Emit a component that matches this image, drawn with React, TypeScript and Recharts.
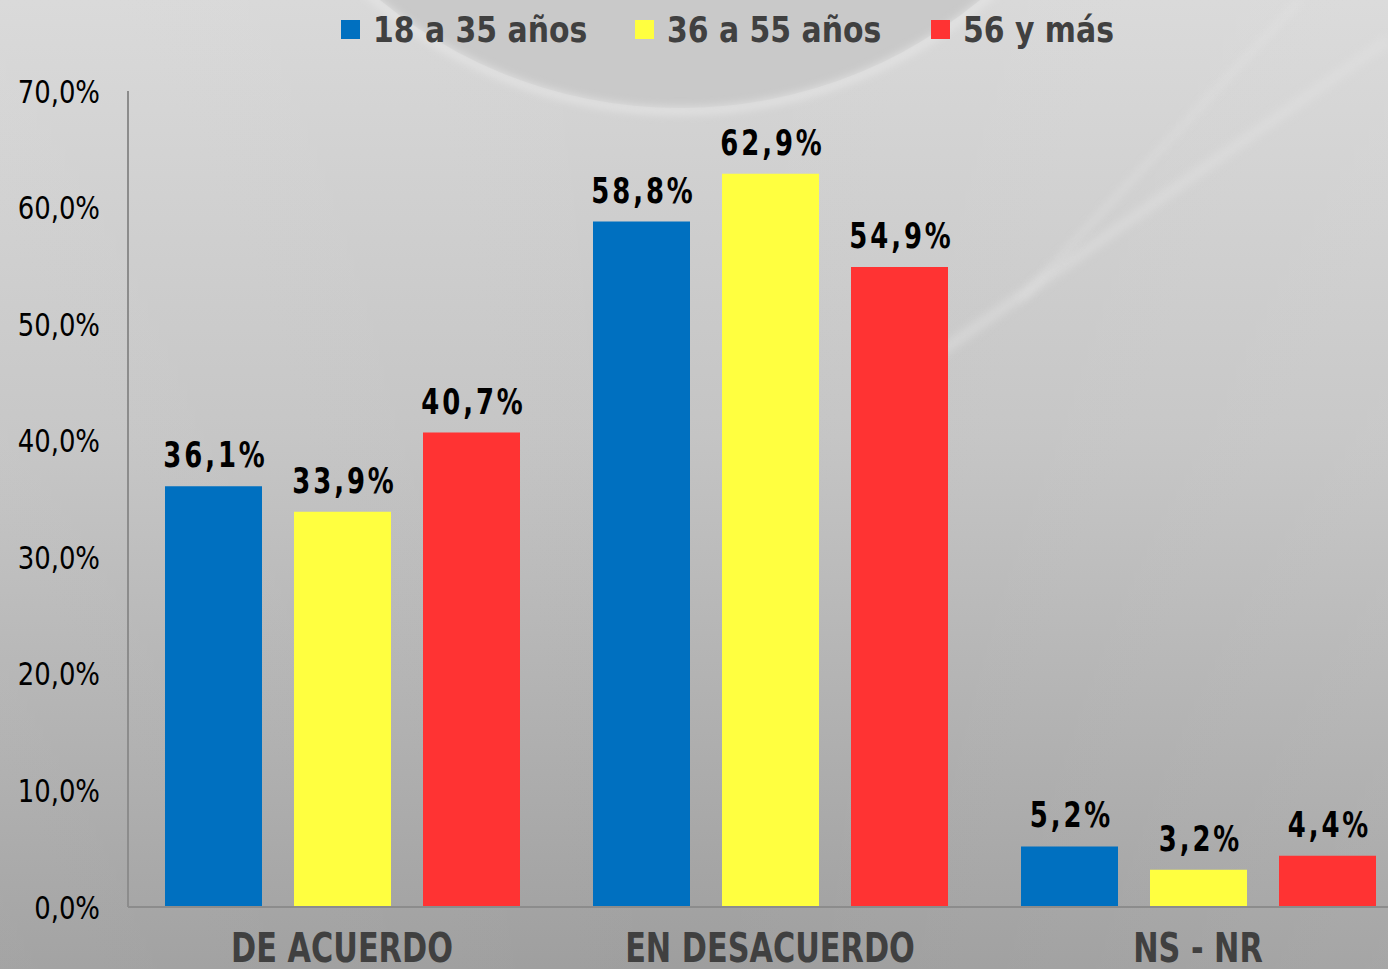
import React from 'react';
import { BarChart, Bar, XAxis, YAxis, LabelList } from 'recharts';

// Datos de la encuesta por grupo de edad
const categories = ['DE ACUERDO', 'EN DESACUERDO', 'NS - NR'];
const seriesNames = ['18 a 35 años', '36 a 55 años', '56 y más'];
const seriesColors = ['#0070C0', '#FFFF40', '#FF3333'];
const joven = [36.1, 58.8, 5.2];
const adulto = [33.9, 62.9, 3.2];
const mayor = [40.7, 54.9, 4.4];
const yTicks = [0, 10, 20, 30, 40, 50, 60, 70];

const data = categories.map((cat, i) => ({
  cat,
  s0: joven[i],
  s1: adulto[i],
  s2: mayor[i]
}));

const fmt = (v: number) => `${v.toFixed(1).replace('.', ',')}%`;

const FONT = '"DejaVu Sans", sans-serif';
const AXIS = '#8c8c8c';
const TEXT_GRAY = '#404040';

// el tipo original es estrecho: se comprime en horizontal
const ValueLabel = (props: any) => {
  const { x, y, width, value } = props;
  return (
    <g transform={`translate(${x + width / 2 + 2},${y - 19}) scale(0.72,1)`}>
      <text
        x={0}
        y={0}
        textAnchor="middle"
        fontFamily={FONT}
        fontWeight="bold"
        fontSize={36}
        letterSpacing={4}
        fill="#000"
      >
        {fmt(Number(value))}
      </text>
    </g>
  );
};

const PercentTick = (props: any) => {
  const { x, y, payload } = props;
  return (
    <g transform={`translate(${x},${y}) scale(0.81,1)`}>
      <text x={0} y={0} dy="0.36em" textAnchor="end" fontFamily={FONT} fontSize={32} fill="#000">
        {fmt(Number(payload.value))}
      </text>
    </g>
  );
};

const CategoryTick = (props: any) => {
  const { x, y, payload } = props;
  return (
    <g transform={`translate(${x},${y + 47}) scale(0.74,1)`}>
      <text x={0} y={0} textAnchor="middle" fontFamily={FONT} fontWeight="bold" fontSize={41} fill={TEXT_GRAY}>
        {payload.value}
      </text>
    </g>
  );
};

const Background = () => (
  <svg width={1388} height={969} style={{ position: 'absolute', left: 0, top: 0 }}>
    <defs>
      <linearGradient id="bg" x1="0" y1="0" x2="0" y2="1">
        <stop offset="0" stopColor="#d8d8d8" />
        <stop offset="0.45" stopColor="#c4c4c4" />
        <stop offset="1" stopColor="#9e9e9e" />
      </linearGradient>
      <linearGradient id="bgSide" x1="0" y1="0" x2="1" y2="0">
        <stop offset="0" stopColor="#ffffff" stopOpacity="0.06" />
        <stop offset="0.5" stopColor="#ffffff" stopOpacity="0" />
        <stop offset="1" stopColor="#ffffff" stopOpacity="0.08" />
      </linearGradient>
      <filter id="blur">
        <feGaussianBlur stdDeviation="4" />
      </filter>
    </defs>
    <rect width={1388} height={969} fill="url(#bg)" />
    <rect width={1388} height={969} fill="url(#bgSide)" />
    <circle cx={680} cy={-363} r={471} fill="#c9c9c9" />
    <circle cx={680} cy={-363} r={474} fill="none" stroke="#e6e6e6" strokeWidth={6} filter="url(#blur)" />
    <line x1={1388} y1={40} x2={900} y2={380} stroke="#e2e2e2" strokeWidth={10} opacity={0.5} filter="url(#blur)" />
    <line x1={1300} y1={0} x2={1020} y2={300} stroke="#e8e8e8" strokeWidth={4} opacity={0.5} filter="url(#blur)" />
  </svg>
);

const LegendBar = () => {
  const itemX = [341, 635, 931];
  return (
    <svg width={1388} height={60} style={{ position: 'absolute', left: 0, top: 0 }}>
      {seriesNames.map((name, i) => (
        <g key={name} transform={`translate(${itemX[i]},0)`}>
          <rect x={0} y={20} width={19} height={19} fill={seriesColors[i]} />
          <g transform="translate(32,42) scale(0.83,1)">
            <text x={0} y={0} fontFamily={FONT} fontWeight="bold" fontSize={36} fill={TEXT_GRAY}>
              {name}
            </text>
          </g>
        </g>
      ))}
    </svg>
  );
};

export default function App() {
  return (
    <div
      style={{
        position: 'absolute',
        left: 0,
        top: 0,
        width: 1388,
        height: 969,
        overflow: 'hidden'
      }}
    >
      <Background />

      <div style={{ position: 'absolute', left: 0, top: 0 }}>
        <BarChart
          width={1420}
          height={969}
          data={data}
          margin={{ top: 91, right: 8, bottom: 0, left: 0 }}
          barSize={97}
          barGap={32}
        >
          <YAxis
            width={128}
            domain={[0, 70]}
            ticks={yTicks}
            axisLine={{ stroke: AXIS, strokeWidth: 2 }}
            tickLine={false}
            tickMargin={22}
            tick={<PercentTick />}
          />
          <XAxis
            dataKey="cat"
            height={62}
            axisLine={{ stroke: AXIS, strokeWidth: 2 }}
            tickLine={false}
            tick={<CategoryTick />}
            interval={0}
          />
          {['s0', 's1', 's2'].map((key, i) => (
            <Bar key={key} dataKey={key} name={seriesNames[i]} fill={seriesColors[i]} isAnimationActive={false}>
              <LabelList dataKey={key} content={<ValueLabel />} />
            </Bar>
          ))}
        </BarChart>
      </div>

      <LegendBar />
    </div>
  );
}
